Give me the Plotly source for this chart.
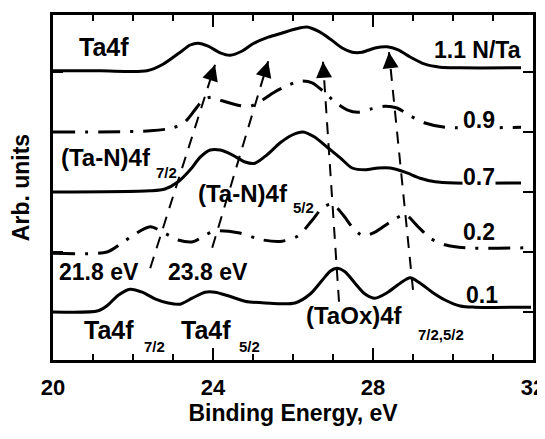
import plotly.graph_objects as go
import math

# ---------------- data ----------------
x_11 = [20.0, 21.18, 22.35, 22.75, 23.18, 23.43, 23.63, 23.88, 24.18, 24.43, 24.73, 25.0, 25.38,
        25.73, 26.08, 26.35, 26.63, 26.93, 27.23, 27.48, 27.73, 28.05, 28.35, 28.63, 28.93, 29.3,
        29.68, 30.18, 31.7]
y_11 = [4.82, 4.82, 4.82, 4.93, 5.13, 5.25, 5.28, 5.23, 5.12, 5.08, 5.15, 5.27, 5.38,
        5.45, 5.52, 5.55, 5.48, 5.35, 5.2, 5.13, 5.13, 5.2, 5.22, 5.17, 5.05, 4.93,
        4.88, 4.87, 4.87]

x_09 = [20.0, 22.43, 23.0, 23.3, 23.55, 23.75, 23.95, 24.23, 24.6, 24.93, 25.23, 25.55, 25.88,
        26.18, 26.48, 26.75, 27.05, 27.35, 27.63, 27.93, 28.3, 28.6, 28.93, 29.3, 29.8, 31.7]
y_09 = [3.8, 3.82, 3.87, 3.97, 4.17, 4.33, 4.38, 4.32, 4.25, 4.23, 4.33, 4.47, 4.58,
        4.65, 4.62, 4.48, 4.3, 4.17, 4.13, 4.18, 4.23, 4.2, 4.07, 3.95, 3.88, 3.88]

x_07 = [20.0, 22.43, 22.8, 23.13, 23.43, 23.68, 23.93, 24.18, 24.48, 24.8, 25.05, 25.35, 25.68,
        25.98, 26.25, 26.53, 26.85, 27.18, 27.48, 27.8, 28.13, 28.43, 28.8, 29.18, 29.55, 30.05, 31.7]
y_07 = [2.8, 2.82, 2.85, 2.97, 3.17, 3.38, 3.5, 3.5, 3.42, 3.3, 3.28, 3.42, 3.62,
        3.75, 3.8, 3.72, 3.55, 3.37, 3.2, 3.17, 3.2, 3.2, 3.13, 3.03, 2.97, 2.95, 2.95]

x_02 = [20.0, 21.35, 21.68, 22.05, 22.43, 22.75, 23.13, 23.5, 23.8, 24.05, 24.63, 25.25, 25.73,
        26.13, 26.48, 26.73, 26.98, 27.25, 27.5, 27.75, 28.05, 28.43, 28.8, 29.13, 29.43, 29.8,
        30.3, 31.85]
y_02 = [1.78, 1.8, 1.93, 2.1, 2.22, 2.13, 2.0, 1.97, 2.08, 2.15, 2.12, 2.0, 1.98,
        2.07, 2.33, 2.53, 2.6, 2.42, 2.2, 2.07, 2.13, 2.3, 2.42, 2.22, 2.03, 1.92,
        1.87, 1.87]

x_01 = [20.0, 21.13, 21.38, 21.63, 21.93, 22.23, 22.55, 22.88, 23.18, 23.48, 23.8, 24.05, 24.38,
        24.8, 25.3, 26.05, 26.43, 26.73, 26.93, 27.1, 27.3, 27.55, 27.8, 28.05, 28.35, 28.68,
        28.93, 29.18, 29.48, 29.8, 30.18, 30.55, 31.95]
y_01 = [0.8, 0.82, 0.92, 1.08, 1.18, 1.13, 1.02, 0.95, 0.93, 1.03, 1.13, 1.13, 1.07,
        0.98, 0.95, 0.95, 1.1, 1.33, 1.48, 1.53, 1.47, 1.28, 1.1, 1.03, 1.12, 1.28,
        1.37, 1.28, 1.13, 1.0, 0.9, 0.88, 0.88]

# arrows: tail -> tip (binding energy, arb. units)
arrow_tail_x = [22.43, 23.98, 27.15, 29.0]
arrow_tail_y = [1.53, 1.87, 0.97, 1.17]
arrow_tip_x = [24.05, 25.38, 26.75, 28.4]
arrow_tip_y = [4.92, 4.98, 4.97, 5.13]

x_ticks = [20, 24, 28, 32]
y_ticks = [0.8, 1.8, 2.8, 3.8, 4.8]
sample_labels = ["1.1 N/Ta", "0.9", "0.7", "0.2", "0.1"]

# ---------------- figure ----------------
FONT = "Liberation Sans, Arial, Helvetica, sans-serif"
PAGE_OFFSET = 8   # default <body> margin of the html page
W, H = 545 - PAGE_OFFSET, 439 - PAGE_OFFSET
ML, MR, MT, MB = 53 - PAGE_OFFSET, 12, 15 - PAGE_OFFSET, 79
XR = [20, 32]
YR = [0, 5.75]
px_per_x = (W - ML - MR) / (XR[1] - XR[0])
px_per_y = (H - MT - MB) / (YR[1] - YR[0])

fig = go.Figure()
dashdot = "22px,10px,3px,10px"
series = [(x_11, y_11, "solid"), (x_09, y_09, dashdot), (x_07, y_07, "solid"),
          (x_02, y_02, dashdot), (x_01, y_01, "solid")]
for xs, ys, dash in series:
    fig.add_trace(go.Scatter(x=xs, y=ys, mode="lines",
                             line=dict(color="black", width=3, dash=dash, shape="spline", smoothing=0.8),
                             showlegend=False, hoverinfo="skip"))

for tx, ty, hx, hy in zip(arrow_tail_x, arrow_tail_y, arrow_tip_x, arrow_tip_y):
    fig.add_trace(go.Scatter(x=[tx, hx], y=[ty, hy], mode="lines",
                             line=dict(color="black", width=2, dash="12px,9px"),
                             showlegend=False, hoverinfo="skip"))

annotations = []
for tx, ty, hx, hy in zip(arrow_tail_x, arrow_tail_y, arrow_tip_x, arrow_tip_y):
    dx = (tx - hx) * px_per_x          # screen px, right positive
    dy = (hy - ty) * px_per_y          # screen px, down positive
    L = math.hypot(dx, dy)
    annotations.append(dict(x=hx, y=hy, xref="x", yref="y", ax=dx / L * 9, ay=dy / L * 9,
                            text="", showarrow=True, arrowhead=2, arrowsize=1.6, arrowwidth=2,
                            arrowcolor="black"))

def lab(text, x, y, size=22, bg=None):
    d = dict(x=x, y=y, xref="x", yref="y", text=text, showarrow=False,
             xanchor="left", yanchor="middle", borderpad=0,
             font=dict(family=FONT, size=size, color="black", weight="bold"))
    if bg:
        d["bgcolor"] = bg
    annotations.append(d)

lab("Ta4f", 20.63, 5.22, size=25)
lab(sample_labels[0], 29.5, 5.17, size=23)
lab(sample_labels[1], 30.23, 4.0, size=23, bg="white")
lab(sample_labels[2], 30.23, 3.05, size=23, bg="white")
lab(sample_labels[3], 30.23, 2.13, size=23)
lab(sample_labels[4], 30.3, 1.08, size=23)
lab("(Ta-N)4f", 20.18, 3.37, size=24)
lab("7/2", 22.55, 3.13, size=15)
lab("(Ta-N)4f", 23.6, 2.78, size=24)
lab("5/2", 25.98, 2.55, size=15)
lab("21.8 eV", 20.13, 1.47, size=23)
lab("23.8 eV", 22.85, 1.47, size=23)
lab("Ta4f", 20.75, 0.5, size=25)
lab("7/2", 22.25, 0.22, size=15)
lab("Ta4f", 23.18, 0.5, size=25)
lab("5/2", 24.63, 0.22, size=15)
lab("(TaOx)4f", 26.3, 0.75, size=24)
lab("7/2,5/2", 29.1, 0.42, size=15)

fig.update_layout(
    width=W, height=H,
    margin=dict(l=ML, r=MR, t=MT, b=MB),
    plot_bgcolor="white", paper_bgcolor="white",
    font=dict(family=FONT, color="black"),
    annotations=annotations,
    xaxis=dict(range=XR, showgrid=False, zeroline=False, showline=True, linewidth=3,
               linecolor="black", mirror="ticks", ticks="inside", tickvals=x_ticks,
               ticklen=12, tickwidth=2, tickcolor="black", automargin=False,
               ticklabeloverflow="allow",
               minor=dict(ticks="inside", dtick=1, tick0=20, ticklen=6, tickwidth=2, tickcolor="black"),
               tickfont=dict(family=FONT, size=22, color="black", weight="bold"),
               ticklabelstandoff=6,
               title=dict(text="Binding Energy, eV", standoff=5,
                          font=dict(family=FONT, size=23, color="black", weight="bold"))),
    yaxis=dict(range=YR, showgrid=False, zeroline=False, showline=True, linewidth=3,
               linecolor="black", mirror="ticks", ticks="inside", tickvals=y_ticks,
               ticklen=10, tickwidth=2, tickcolor="black", showticklabels=False,
               automargin=False,
               title=dict(text="Arb. units", standoff=17,
                          font=dict(family=FONT, size=23, color="black", weight="bold"))),
)

fig.write_html("out.html")
